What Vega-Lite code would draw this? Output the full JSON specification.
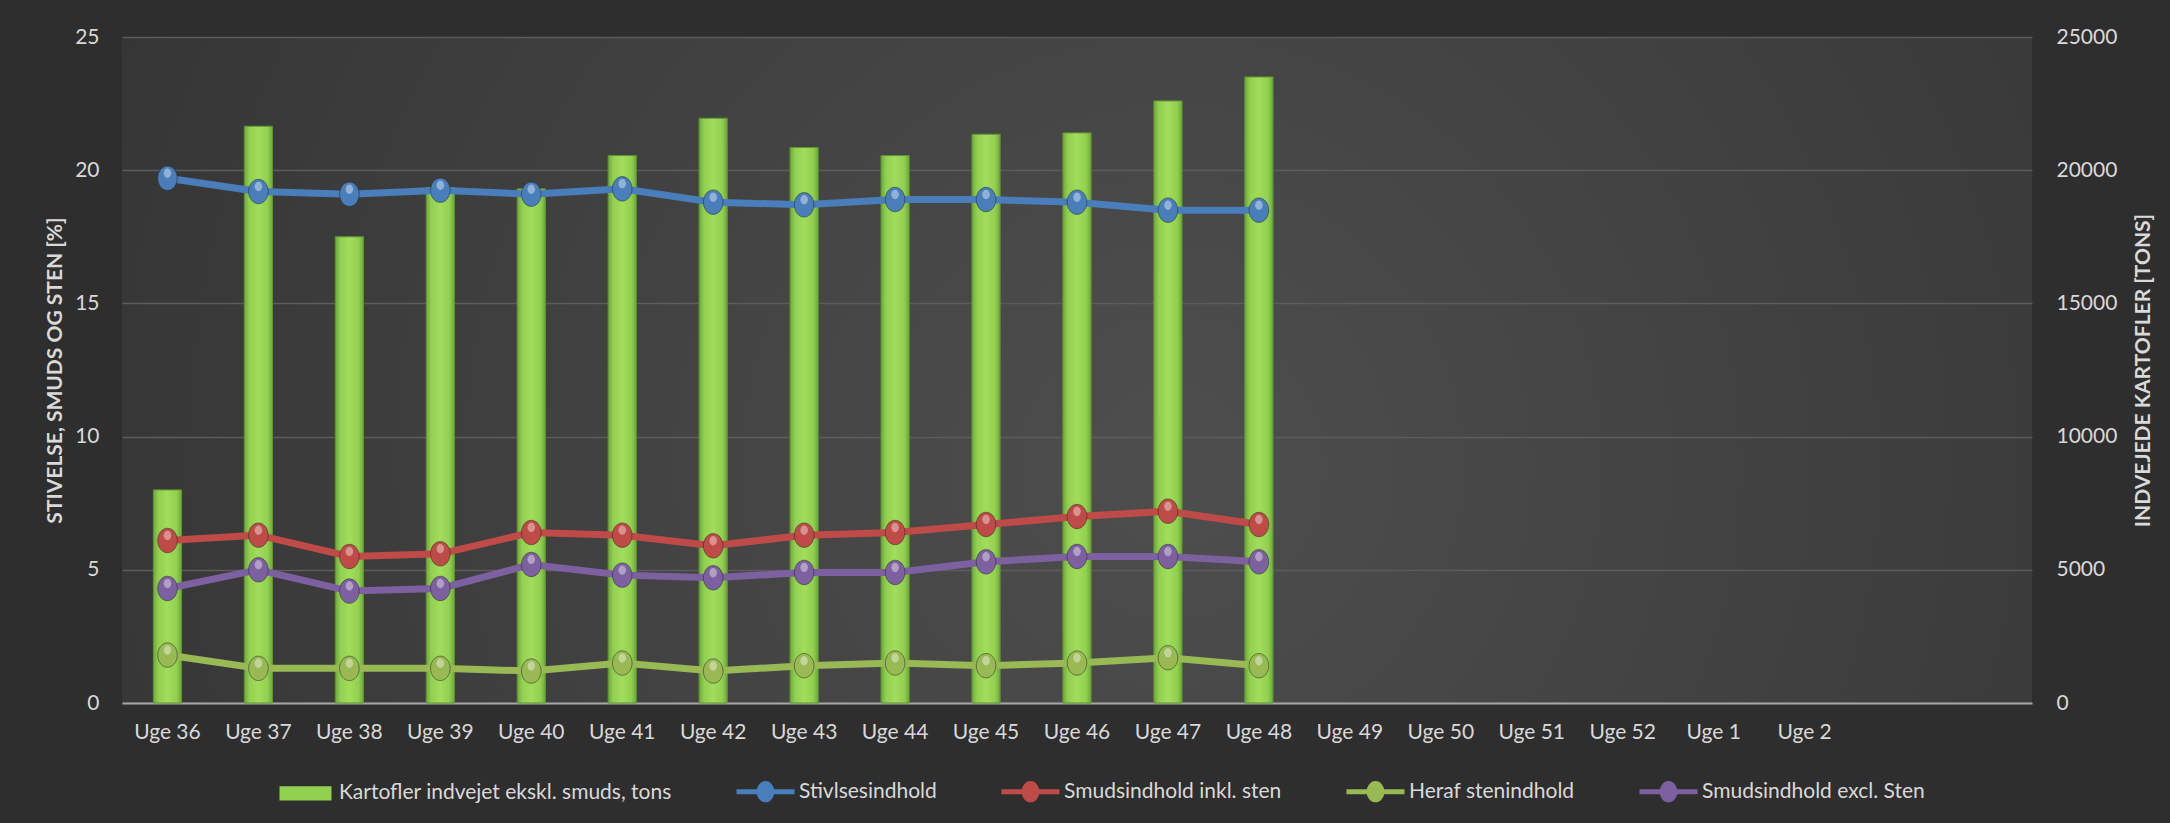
{
  "$schema": "https://vega.github.io/schema/vega-lite/v6.json",
  "width": 1910,
  "height": 666,
  "autosize": {"type": "none"},
  "padding": {"left": 122, "top": 37, "right": 138, "bottom": 120},
  "background": "#2e2e2e",
  "config": {
    "font": "Lato",
    "view": {
      "stroke": null,
      "fill": {
        "gradient": "radial",
        "x1": 0.55, "y1": 0.55, "r1": 0,
        "x2": 0.55, "y2": 0.55, "r2": 0.75,
        "stops": [
          {"offset": 0, "color": "#4e4e4e"},
          {"offset": 1, "color": "#2f2f2f"}
        ]
      }
    },
    "axis": {
      "labelFont": "Lato",
      "labelFontSize": 21,
      "labelColor": "#d9d9d9",
      "titleFont": "Lato",
      "titleFontSize": 21,
      "titleFontWeight": "bold",
      "titleColor": "#d9d9d9",
      "ticks": false,
      "tickSize": 0,
      "domain": false,
      "grid": false
    }
  },
  "datasets": {
    "bars": [
      {"uge": "Uge 36", "tons": 8000},
      {"uge": "Uge 37", "tons": 21650},
      {"uge": "Uge 38", "tons": 17500},
      {"uge": "Uge 39", "tons": 19350},
      {"uge": "Uge 40", "tons": 19300},
      {"uge": "Uge 41", "tons": 20550},
      {"uge": "Uge 42", "tons": 21950},
      {"uge": "Uge 43", "tons": 20850},
      {"uge": "Uge 44", "tons": 20550},
      {"uge": "Uge 45", "tons": 21350},
      {"uge": "Uge 46", "tons": 21400},
      {"uge": "Uge 47", "tons": 22600},
      {"uge": "Uge 48", "tons": 23500}
    ],
    "lines": [
      {"uge": "Uge 36", "serie": "Stivlsesindhold", "pct": 19.7},
      {"uge": "Uge 37", "serie": "Stivlsesindhold", "pct": 19.2},
      {"uge": "Uge 38", "serie": "Stivlsesindhold", "pct": 19.1},
      {"uge": "Uge 39", "serie": "Stivlsesindhold", "pct": 19.25},
      {"uge": "Uge 40", "serie": "Stivlsesindhold", "pct": 19.1},
      {"uge": "Uge 41", "serie": "Stivlsesindhold", "pct": 19.3},
      {"uge": "Uge 42", "serie": "Stivlsesindhold", "pct": 18.8},
      {"uge": "Uge 43", "serie": "Stivlsesindhold", "pct": 18.7},
      {"uge": "Uge 44", "serie": "Stivlsesindhold", "pct": 18.9},
      {"uge": "Uge 45", "serie": "Stivlsesindhold", "pct": 18.9},
      {"uge": "Uge 46", "serie": "Stivlsesindhold", "pct": 18.8},
      {"uge": "Uge 47", "serie": "Stivlsesindhold", "pct": 18.5},
      {"uge": "Uge 48", "serie": "Stivlsesindhold", "pct": 18.5},
      {"uge": "Uge 36", "serie": "Smudsindhold inkl. sten", "pct": 6.1},
      {"uge": "Uge 37", "serie": "Smudsindhold inkl. sten", "pct": 6.3},
      {"uge": "Uge 38", "serie": "Smudsindhold inkl. sten", "pct": 5.5},
      {"uge": "Uge 39", "serie": "Smudsindhold inkl. sten", "pct": 5.6},
      {"uge": "Uge 40", "serie": "Smudsindhold inkl. sten", "pct": 6.4},
      {"uge": "Uge 41", "serie": "Smudsindhold inkl. sten", "pct": 6.3},
      {"uge": "Uge 42", "serie": "Smudsindhold inkl. sten", "pct": 5.9},
      {"uge": "Uge 43", "serie": "Smudsindhold inkl. sten", "pct": 6.3},
      {"uge": "Uge 44", "serie": "Smudsindhold inkl. sten", "pct": 6.4},
      {"uge": "Uge 45", "serie": "Smudsindhold inkl. sten", "pct": 6.7},
      {"uge": "Uge 46", "serie": "Smudsindhold inkl. sten", "pct": 7.0},
      {"uge": "Uge 47", "serie": "Smudsindhold inkl. sten", "pct": 7.2},
      {"uge": "Uge 48", "serie": "Smudsindhold inkl. sten", "pct": 6.7},
      {"uge": "Uge 36", "serie": "Heraf stenindhold", "pct": 1.8},
      {"uge": "Uge 37", "serie": "Heraf stenindhold", "pct": 1.3},
      {"uge": "Uge 38", "serie": "Heraf stenindhold", "pct": 1.3},
      {"uge": "Uge 39", "serie": "Heraf stenindhold", "pct": 1.3},
      {"uge": "Uge 40", "serie": "Heraf stenindhold", "pct": 1.2},
      {"uge": "Uge 41", "serie": "Heraf stenindhold", "pct": 1.5},
      {"uge": "Uge 42", "serie": "Heraf stenindhold", "pct": 1.2},
      {"uge": "Uge 43", "serie": "Heraf stenindhold", "pct": 1.4},
      {"uge": "Uge 44", "serie": "Heraf stenindhold", "pct": 1.5},
      {"uge": "Uge 45", "serie": "Heraf stenindhold", "pct": 1.4},
      {"uge": "Uge 46", "serie": "Heraf stenindhold", "pct": 1.5},
      {"uge": "Uge 47", "serie": "Heraf stenindhold", "pct": 1.7},
      {"uge": "Uge 48", "serie": "Heraf stenindhold", "pct": 1.4},
      {"uge": "Uge 36", "serie": "Smudsindhold excl. Sten", "pct": 4.3},
      {"uge": "Uge 37", "serie": "Smudsindhold excl. Sten", "pct": 5.0},
      {"uge": "Uge 38", "serie": "Smudsindhold excl. Sten", "pct": 4.2},
      {"uge": "Uge 39", "serie": "Smudsindhold excl. Sten", "pct": 4.3},
      {"uge": "Uge 40", "serie": "Smudsindhold excl. Sten", "pct": 5.2},
      {"uge": "Uge 41", "serie": "Smudsindhold excl. Sten", "pct": 4.8},
      {"uge": "Uge 42", "serie": "Smudsindhold excl. Sten", "pct": 4.7},
      {"uge": "Uge 43", "serie": "Smudsindhold excl. Sten", "pct": 4.9},
      {"uge": "Uge 44", "serie": "Smudsindhold excl. Sten", "pct": 4.9},
      {"uge": "Uge 45", "serie": "Smudsindhold excl. Sten", "pct": 5.3},
      {"uge": "Uge 46", "serie": "Smudsindhold excl. Sten", "pct": 5.5},
      {"uge": "Uge 47", "serie": "Smudsindhold excl. Sten", "pct": 5.5},
      {"uge": "Uge 48", "serie": "Smudsindhold excl. Sten", "pct": 5.3}
    ]
  },
  "encoding": {
    "x": {
      "field": "uge",
      "type": "ordinal",
      "sort": null,
      "scale": {
        "domain": ["Uge 36", "Uge 37", "Uge 38", "Uge 39", "Uge 40", "Uge 41", "Uge 42", "Uge 43", "Uge 44", "Uge 45", "Uge 46", "Uge 47", "Uge 48", "Uge 49", "Uge 50", "Uge 51", "Uge 52", "Uge 1", "Uge 2", " ", "  "],
        "paddingInner": 0,
        "paddingOuter": 0
      },
      "axis": {
        "title": null,
        "labelAngle": 0,
        "labelPadding": 18,
        "domain": true,
        "domainColor": "#a6a6a6",
        "domainWidth": 2
      }
    }
  },
  "layer": [
    {
      "data": {"name": "bars"},
      "mark": {
        "type": "bar",
        "width": {"band": 0.31},
        "stroke": "#5f9630",
        "strokeWidth": 1,
        "color": {
          "gradient": "linear",
          "x1": 0, "y1": 0, "x2": 1, "y2": 0,
          "stops": [
            {"offset": 0, "color": "#6fa83c"},
            {"offset": 0.18, "color": "#92d050"},
            {"offset": 0.5, "color": "#a2dd5c"},
            {"offset": 0.82, "color": "#92d050"},
            {"offset": 1, "color": "#6fa83c"}
          ]
        }
      },
      "encoding": {
        "y": {
          "field": "tons",
          "type": "quantitative",
          "scale": {"domain": [0, 25000], "nice": false},
          "axis": {
            "orient": "right",
            "title": "INDVEJEDE KARTOFLER [TONS]",
            "titleAngle": 270,
            "titleBaseline": "top",
            "titlePadding": 16,
            "labelPadding": 24,
            "format": "d",
            "values": [0, 5000, 10000, 15000, 20000, 25000]
          }
        }
      }
    },
    {
      "data": {"name": "lines"},
      "encoding": {
        "y": {
          "field": "pct",
          "type": "quantitative",
          "scale": {"domain": [0, 25], "nice": false},
          "axis": {
            "orient": "left",
            "title": "STIVELSE, SMUDS OG STEN [%]",
            "titlePadding": 9,
            "labelPadding": 23,
            "grid": true,
            "gridColor": "#5c5c5c",
            "gridWidth": 1.5,
            "values": [0, 5, 10, 15, 20, 25]
          }
        }
      },
      "layer": [
        {
          "mark": {"type": "line", "strokeWidth": 7},
          "encoding": {
            "color": {
              "field": "serie",
              "type": "nominal",
              "scale": {
                "domain": ["Kartofler indvejet ekskl. smuds, tons", "Stivlsesindhold", "Smudsindhold inkl. sten", "Heraf stenindhold", "Smudsindhold excl. Sten"],
                "range": ["#92d050", "#4a7ebb", "#be4b48", "#98b954", "#7d60a0"]
              },
              "legend": {
                "orient": "none",
                "legendX": 152,
                "legendY": 723,
                "direction": "horizontal",
                "columns": 5,
                "title": null,
                "labelFont": "Lato",
                "labelFontSize": 21,
                "labelColor": "#d9d9d9",
                "labelLimit": 0,
                "labelOffset": 2,
                "columnPadding": 54,
                "symbolSize": 3364,
                "encode": {
                  "symbols": {
                    "update": {
                      "shape": {"signal": "datum.value === 'Kartofler indvejet ekskl. smuds, tons' ? 'M-0.81,-0.16H0.81V0.16H-0.81Z' : 'M-1,0H1M-0.22,0A0.22,0.28 0 1,0 0.22,0A0.22,0.28 0 1,0 -0.22,0Z'"},
                      "fill": {"scale": "color", "field": "value"},
                      "stroke": {"scale": "color", "field": "value"},
                      "strokeWidth": {"value": 5},
                      "opacity": {"value": 1}
                    }
                  }
                }
              }
            }
          }
        },
        {
          "mark": {
            "type": "point",
            "filled": true,
            "size": 600,
            "opacity": 1,
            "shape": "M0,-1A0.8,1 0 1,1 0,1A0.8,1 0 1,1 0,-1Z",
            "stroke": "#1e1e1e",
            "strokeWidth": 0.8,
            "strokeOpacity": 0.6
          },
          "encoding": {
            "color": {"field": "serie", "type": "nominal"}
          }
        },
        {
          "mark": {
            "type": "point",
            "filled": true,
            "size": 90,
            "opacity": 0.4,
            "color": "#ffffff",
            "shape": "M0,-1A0.8,1 0 1,1 0,1A0.8,1 0 1,1 0,-1Z",
            "yOffset": -5
          },
          "encoding": {}
        }
      ]
    }
  ],
  "resolve": {"scale": {"y": "independent"}}
}
